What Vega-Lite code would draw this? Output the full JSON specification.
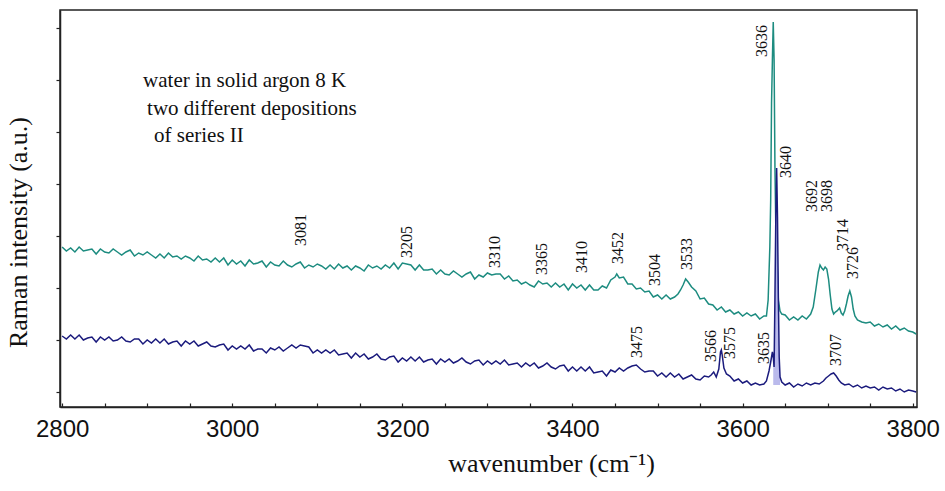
{
  "$schema": "https://vega.github.io/schema/vega-lite/v6.json",
  "width": 857,
  "height": 397,
  "autosize": {"type": "none"},
  "padding": {"left": 60, "top": 10, "right": 28, "bottom": 84},
  "background": "white",
  "config": {
    "view": {"stroke": "#222", "strokeWidth": 1.5},
    "font": "Liberation Serif"
  },
  "datasets": {
    "teal": [
      {"w":2800,"v":160},{"w":2805,"v":156},{"w":2810,"v":159},{"w":2815,"v":155},{"w":2820,"v":160},{"w":2825,"v":156},{"w":2830,"v":157},{"w":2835,"v":158},{"w":2840,"v":153},{"w":2845,"v":158},
      {"w":2850,"v":155},{"w":2855,"v":154},{"w":2860,"v":158},{"w":2865,"v":155},{"w":2870,"v":152},{"w":2875,"v":155},{"w":2880,"v":157},{"w":2885,"v":151},{"w":2890,"v":154},{"w":2895,"v":152},
      {"w":2900,"v":155},{"w":2905,"v":152},{"w":2910,"v":149},{"w":2915,"v":153},{"w":2920,"v":149},{"w":2925,"v":154},{"w":2930,"v":150},{"w":2935,"v":151},{"w":2940,"v":148},{"w":2945,"v":151},
      {"w":2950,"v":149},{"w":2955,"v":146},{"w":2960,"v":151},{"w":2965,"v":147},{"w":2970,"v":148},{"w":2975,"v":145},{"w":2980,"v":149},{"w":2985,"v":145},{"w":2990,"v":149},{"w":2995,"v":142},
      {"w":3000,"v":147},{"w":3005,"v":143},{"w":3010,"v":146},{"w":3015,"v":141},{"w":3020,"v":147},{"w":3025,"v":143},{"w":3030,"v":144},{"w":3035,"v":146},{"w":3040,"v":140},{"w":3045,"v":145},
      {"w":3050,"v":142},{"w":3055,"v":141},{"w":3060,"v":146},{"w":3065,"v":142},{"w":3070,"v":140},{"w":3075,"v":143},{"w":3080,"v":145},{"w":3085,"v":139},{"w":3090,"v":142},{"w":3095,"v":140},
      {"w":3100,"v":143},{"w":3105,"v":141},{"w":3110,"v":138},{"w":3115,"v":142},{"w":3120,"v":138},{"w":3125,"v":143},{"w":3130,"v":139},{"w":3135,"v":141},{"w":3140,"v":137},{"w":3145,"v":141},
      {"w":3150,"v":139},{"w":3155,"v":136},{"w":3160,"v":142},{"w":3165,"v":139},{"w":3170,"v":141},{"w":3175,"v":138},{"w":3180,"v":142},{"w":3185,"v":139},{"w":3190,"v":144},{"w":3195,"v":138},
      {"w":3200,"v":144},{"w":3205,"v":143},{"w":3210,"v":142},{"w":3215,"v":137},{"w":3220,"v":142},{"w":3225,"v":137},{"w":3230,"v":137},{"w":3235,"v":138},{"w":3240,"v":133},{"w":3245,"v":137},
      {"w":3250,"v":133},{"w":3255,"v":132},{"w":3260,"v":136},{"w":3265,"v":133},{"w":3270,"v":130},{"w":3275,"v":133},{"w":3280,"v":135},{"w":3285,"v":128},{"w":3290,"v":132},{"w":3295,"v":130},
      {"w":3300,"v":134},{"w":3305,"v":132},{"w":3310,"v":133},{"w":3315,"v":133},{"w":3320,"v":128},{"w":3325,"v":131},{"w":3330,"v":126},{"w":3335,"v":127},{"w":3340,"v":123},{"w":3345,"v":125},
      {"w":3350,"v":122},{"w":3355,"v":120},{"w":3360,"v":126},{"w":3365,"v":123},{"w":3370,"v":124},{"w":3375,"v":120},{"w":3380,"v":124},{"w":3385,"v":120},{"w":3390,"v":123},{"w":3395,"v":117},
      {"w":3400,"v":123},{"w":3405,"v":119},{"w":3410,"v":122},{"w":3415,"v":117},{"w":3420,"v":122},{"w":3425,"v":117},{"w":3430,"v":117},{"w":3435,"v":121},{"w":3440,"v":119},{"w":3445,"v":127},
      {"w":3450,"v":130},{"w":3452,"v":133},{"w":3455,"v":129},{"w":3460,"v":130},{"w":3465,"v":123},{"w":3470,"v":123},{"w":3475,"v":118},{"w":3480,"v":119},{"w":3485,"v":115},{"w":3490,"v":116},
      {"w":3495,"v":110},{"w":3500,"v":112},{"w":3505,"v":108},{"w":3510,"v":112},{"w":3515,"v":108},{"w":3520,"v":110},{"w":3524,"v":113},{"w":3527,"v":117},{"w":3530,"v":122},{"w":3533,"v":128},
      {"w":3536,"v":125},{"w":3540,"v":120},{"w":3545,"v":116},{"w":3550,"v":108},{"w":3555,"v":109},{"w":3560,"v":103},{"w":3565,"v":102},{"w":3570,"v":97},{"w":3575,"v":100},{"w":3580,"v":95},
      {"w":3585,"v":97},{"w":3590,"v":93},{"w":3595,"v":95},{"w":3600,"v":91},{"w":3605,"v":94},{"w":3610,"v":91},{"w":3615,"v":93},{"w":3620,"v":88},{"w":3625,"v":91},{"w":3628,"v":91},
      {"w":3630,"v":107},{"w":3632,"v":160},{"w":3633,"v":207},{"w":3634,"v":304},{"w":3635,"v":347},{"w":3636,"v":385},{"w":3637,"v":347},{"w":3638,"v":240},{"w":3639,"v":180},{"w":3640,"v":157},
      {"w":3642,"v":107},{"w":3644,"v":96},{"w":3646,"v":93},{"w":3650,"v":92},{"w":3655,"v":87},{"w":3660,"v":90},{"w":3665,"v":87},{"w":3670,"v":91},{"w":3675,"v":88},{"w":3680,"v":93},
      {"w":3683,"v":100},{"w":3686,"v":117},{"w":3689,"v":135},{"w":3691,"v":142},{"w":3693,"v":139},{"w":3695,"v":137},{"w":3697,"v":140},{"w":3699,"v":138},{"w":3701,"v":128},{"w":3703,"v":112},
      {"w":3705,"v":98},{"w":3707,"v":93},{"w":3709,"v":95},{"w":3711,"v":96},{"w":3714,"v":99},{"w":3716,"v":94},{"w":3718,"v":92},{"w":3720,"v":96},{"w":3722,"v":103},{"w":3724,"v":111},
      {"w":3726,"v":116},{"w":3728,"v":110},{"w":3730,"v":98},{"w":3732,"v":91},{"w":3735,"v":87},{"w":3740,"v":85},{"w":3745,"v":84},{"w":3750,"v":85},{"w":3755,"v":81},{"w":3760,"v":83},
      {"w":3765,"v":80},{"w":3770,"v":82},{"w":3775,"v":78},{"w":3780,"v":81},{"w":3785,"v":77},{"w":3790,"v":79},{"w":3795,"v":76},{"w":3800,"v":75},{"w":3804,"v":73}
    ],
    "navy": [
      {"w":2800,"v":71},{"w":2805,"v":68},{"w":2810,"v":72},{"w":2815,"v":68},{"w":2820,"v":72},{"w":2825,"v":67},{"w":2830,"v":69},{"w":2835,"v":70},{"w":2840,"v":65},{"w":2845,"v":70},
      {"w":2850,"v":67},{"w":2855,"v":70},{"w":2860,"v":66},{"w":2865,"v":67},{"w":2870,"v":70},{"w":2875,"v":66},{"w":2880,"v":65},{"w":2885,"v":68},{"w":2890,"v":68},{"w":2895,"v":63},
      {"w":2900,"v":67},{"w":2905,"v":64},{"w":2910,"v":68},{"w":2915,"v":64},{"w":2920,"v":68},{"w":2925,"v":63},{"w":2930,"v":65},{"w":2935,"v":66},{"w":2940,"v":61},{"w":2945,"v":66},
      {"w":2950,"v":63},{"w":2955,"v":66},{"w":2960,"v":61},{"w":2965,"v":63},{"w":2970,"v":65},{"w":2975,"v":61},{"w":2980,"v":60},{"w":2985,"v":62},{"w":2990,"v":63},{"w":2995,"v":57},
      {"w":3000,"v":61},{"w":3005,"v":58},{"w":3010,"v":61},{"w":3015,"v":58},{"w":3020,"v":62},{"w":3025,"v":56},{"w":3030,"v":58},{"w":3035,"v":58},{"w":3040,"v":54},{"w":3045,"v":59},
      {"w":3050,"v":57},{"w":3055,"v":60},{"w":3060,"v":56},{"w":3065,"v":59},{"w":3070,"v":62},{"w":3075,"v":59},{"w":3080,"v":62},{"w":3085,"v":61},{"w":3090,"v":60},{"w":3095,"v":54},
      {"w":3100,"v":57},{"w":3105,"v":54},{"w":3110,"v":57},{"w":3115,"v":54},{"w":3120,"v":57},{"w":3125,"v":52},{"w":3130,"v":53},{"w":3135,"v":54},{"w":3140,"v":49},{"w":3145,"v":54},
      {"w":3150,"v":50},{"w":3155,"v":53},{"w":3160,"v":48},{"w":3165,"v":50},{"w":3170,"v":53},{"w":3175,"v":48},{"w":3180,"v":47},{"w":3185,"v":50},{"w":3190,"v":51},{"w":3195,"v":45},
      {"w":3200,"v":49},{"w":3205,"v":46},{"w":3210,"v":50},{"w":3215,"v":46},{"w":3220,"v":50},{"w":3225,"v":45},{"w":3230,"v":47},{"w":3235,"v":48},{"w":3240,"v":43},{"w":3245,"v":48},
      {"w":3250,"v":45},{"w":3255,"v":48},{"w":3260,"v":44},{"w":3265,"v":46},{"w":3270,"v":49},{"w":3275,"v":45},{"w":3280,"v":43},{"w":3285,"v":46},{"w":3290,"v":47},{"w":3295,"v":42},
      {"w":3300,"v":46},{"w":3305,"v":43},{"w":3310,"v":46},{"w":3315,"v":43},{"w":3320,"v":47},{"w":3325,"v":42},{"w":3330,"v":43},{"w":3335,"v":44},{"w":3340,"v":40},{"w":3345,"v":44},
      {"w":3350,"v":41},{"w":3355,"v":44},{"w":3360,"v":39},{"w":3365,"v":41},{"w":3370,"v":44},{"w":3375,"v":40},{"w":3380,"v":38},{"w":3385,"v":41},{"w":3390,"v":42},{"w":3395,"v":36},
      {"w":3400,"v":40},{"w":3405,"v":36},{"w":3410,"v":40},{"w":3415,"v":36},{"w":3420,"v":40},{"w":3425,"v":34},{"w":3430,"v":35},{"w":3435,"v":36},{"w":3440,"v":31},{"w":3445,"v":37},
      {"w":3450,"v":35},{"w":3455,"v":39},{"w":3460,"v":36},{"w":3465,"v":39},{"w":3470,"v":41},{"w":3475,"v":42},{"w":3480,"v":38},{"w":3485,"v":35},{"w":3490,"v":36},{"w":3495,"v":36},
      {"w":3500,"v":31},{"w":3505,"v":34},{"w":3510,"v":30},{"w":3515,"v":34},{"w":3520,"v":30},{"w":3525,"v":33},{"w":3530,"v":28},{"w":3535,"v":30},{"w":3540,"v":32},{"w":3545,"v":28},
      {"w":3550,"v":27},{"w":3555,"v":31},{"w":3560,"v":30},{"w":3563,"v":32},{"w":3566,"v":35},{"w":3569,"v":30},{"w":3572,"v":38},{"w":3574,"v":55},{"w":3575,"v":57},{"w":3576,"v":52},
      {"w":3578,"v":39},{"w":3581,"v":33},{"w":3585,"v":31},{"w":3590,"v":26},{"w":3595,"v":28},{"w":3600,"v":24},{"w":3605,"v":26},{"w":3610,"v":22},{"w":3615,"v":24},{"w":3620,"v":22},
      {"w":3625,"v":23},{"w":3628,"v":26},{"w":3631,"v":36},{"w":3633,"v":45},{"w":3635,"v":55},{"w":3636,"v":50},{"w":3637,"v":40},{"w":3638,"v":110},{"w":3639,"v":190},{"w":3640,"v":239},
      {"w":3641,"v":190},{"w":3642,"v":110},{"w":3643,"v":50},{"w":3644,"v":30},{"w":3646,"v":25},{"w":3650,"v":22},{"w":3655,"v":24},{"w":3660,"v":20},{"w":3665,"v":23},{"w":3670,"v":21},
      {"w":3675,"v":24},{"w":3680,"v":22},{"w":3685,"v":24},{"w":3690,"v":23},{"w":3695,"v":26},{"w":3698,"v":29},{"w":3701,"v":31},{"w":3704,"v":33},{"w":3707,"v":34},{"w":3710,"v":31},
      {"w":3713,"v":27},{"w":3716,"v":24},{"w":3720,"v":22},{"w":3725,"v":23},{"w":3730,"v":20},{"w":3735,"v":22},{"w":3740,"v":19},{"w":3745,"v":21},{"w":3750,"v":19},{"w":3755,"v":20},
      {"w":3760,"v":17},{"w":3765,"v":20},{"w":3770,"v":18},{"w":3775,"v":19},{"w":3780,"v":16},{"w":3785,"v":18},{"w":3790,"v":15},{"w":3795,"v":17},{"w":3800,"v":16},{"w":3804,"v":15}
    ],
    "labels": [
      {"w":3081,"v":161,"t":"3081"},{"w":3205.4,"v":149,"t":"3205"},{"w":3308.8,"v":139,"t":"3310"},{"w":3364,"v":132,"t":"3365"},
      {"w":3411,"v":134,"t":"3410"},{"w":3453,"v":143,"t":"3452"},{"w":3497,"v":121,"t":"3504"},{"w":3534.4,"v":137,"t":"3533"},
      {"w":3622.6,"v":350,"t":"3636"},{"w":3650.8,"v":229,"t":"3640"},{"w":3681,"v":195,"t":"3692"},{"w":3699,"v":195,"t":"3698"},
      {"w":3717.7,"v":156,"t":"3714"},{"w":3729.5,"v":128,"t":"3726"},{"w":3475.7,"v":49,"t":"3475"},{"w":3562.6,"v":45,"t":"3566"},
      {"w":3585,"v":48,"t":"3575"},{"w":3625,"v":43,"t":"3635"},{"w":3709.5,"v":41,"t":"3707"}
    ],
    "note": [
      {"w":2895.2,"v":320,"t":"water in solid argon 8 K"},
      {"w":2899.9,"v":292,"t":"two different depositions"},
      {"w":2908,"v":265,"t":"of series II"}
    ]
  },
  "layer": [
    {
      "data": {"name": "teal"},
      "mark": {"type": "line", "color": "#1d8c80", "strokeWidth": 1.5, "clip": true},
      "encoding": {
        "x": {
          "field": "w", "type": "quantitative",
          "scale": {"domain": [2797.5, 3805], "nice": false, "zero": false},
          "axis": {
            "values": [2800, 2850, 2900, 2950, 3000, 3050, 3100, 3150, 3200, 3250, 3300, 3350, 3400, 3450, 3500, 3550, 3600, 3650, 3700, 3750, 3800],
            "labelExpr": "datum.value % 200 === 0 ? datum.label : ''",
            "format": "d",
            "grid": false,
            "domainColor": "#222", "domainWidth": 1.5,
            "tickColor": "#222", "tickSize": -4, "tickWidth": 1.2,
            "labelFont": "Liberation Sans", "labelFontSize": 24, "labelColor": "#111",
            "labelPadding": 14, "labelFlush": false, "labelOverlap": false,
            "title": "wavenumber (cm⁻¹)",
            "titleFont": "Liberation Serif", "titleFontSize": 26, "titleFontWeight": "normal", "titleColor": "#111",
            "titleX": 491, "titleY": 64, "titleAlign": "center", "titleBaseline": "alphabetic"
          }
        },
        "y": {
          "field": "v", "type": "quantitative",
          "scale": {"domain": [0, 397], "nice": false, "zero": false},
          "axis": {
            "values": [15, 28, 41, 54, 67, 80, 93, 106, 119, 132, 145, 158, 171, 184, 197, 210, 223, 236, 249, 262, 275, 288, 301, 314, 327, 340, 353, 366, 379, 392],
            "labels": false, "grid": false,
            "domainColor": "#222", "domainWidth": 1.5,
            "tickColor": "#222", "tickSize": 4, "tickWidth": 1.2,
            "title": "Raman intensity (a.u.)",
            "titleFont": "Liberation Serif", "titleFontSize": 26, "titleFontWeight": "normal", "titleColor": "#111",
            "titleAngle": 270, "titleX": -42, "titleY": 222, "titleAlign": "center", "titleBaseline": "middle"
          }
        }
      }
    },
    {
      "data": {"name": "navy"},
      "transform": [{"filter": "datum.w >= 3636 && datum.w <= 3645"}],
      "mark": {"type": "area", "color": "#b3b3ea", "opacity": 0.9},
      "encoding": {
        "x": {"field": "w", "type": "quantitative"},
        "y": {"field": "v", "type": "quantitative"},
        "y2": {"datum": 22}
      }
    },
    {
      "data": {"name": "navy"},
      "mark": {"type": "line", "color": "#1b1b7d", "strokeWidth": 1.5, "clip": true},
      "encoding": {
        "x": {"field": "w", "type": "quantitative"},
        "y": {"field": "v", "type": "quantitative"}
      }
    },
    {
      "data": {"name": "labels"},
      "mark": {"type": "text", "angle": 270, "align": "left", "baseline": "middle", "font": "Liberation Serif", "fontSize": 16, "color": "#111"},
      "encoding": {
        "x": {"field": "w", "type": "quantitative"},
        "y": {"field": "v", "type": "quantitative"},
        "text": {"field": "t"}
      }
    },
    {
      "data": {"name": "note"},
      "mark": {"type": "text", "align": "left", "baseline": "alphabetic", "font": "Liberation Serif", "fontSize": 21, "color": "#111"},
      "encoding": {
        "x": {"field": "w", "type": "quantitative"},
        "y": {"field": "v", "type": "quantitative"},
        "text": {"field": "t"}
      }
    }
  ]
}
